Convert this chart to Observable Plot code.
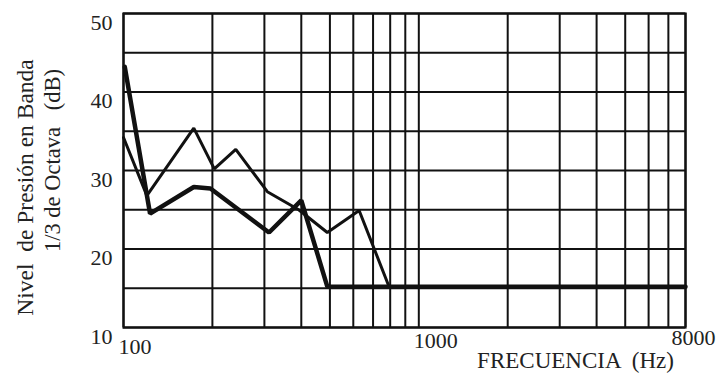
<!DOCTYPE html>
<html>
<head>
<meta charset="utf-8">
<script src="https://cdn.jsdelivr.net/npm/d3@7"></script>
<script src="https://cdn.jsdelivr.net/npm/@observablehq/plot@0.6"></script>
<style>
  html, body { margin: 0; padding: 0; background: #fff; }
  #chart svg { display: block; }
  #chart text { white-space: pre; }
</style>
</head>
<body>
<div id="chart"></div>
<script>
// Curve A (thin line)
const freqA  = [100, 120, 173, 203, 240, 307, 392, 490, 628, 793, 8000];
const levelA = [34.2, 26.8, 35.4, 30.2, 32.7, 27.3, 25.0, 22.1, 24.9, 15.2, 15.2];
// Curve B (thick line)
const freqB  = [101, 123, 173, 197, 311, 400, 490, 8000];
const levelB = [43.2, 24.5, 27.9, 27.7, 22.1, 26.2, 15.2, 15.2];

const xGrid = [100, 200, 300, 400, 500, 600, 700, 800, 900, 1000, 2000, 3000, 4000, 5000, 6000, 7000, 8000];
const yGrid = [10, 15, 20, 25, 30, 35, 40, 45, 50];
const yTickLabels = [10, 20, 30, 40, 50];
const xTickLabels = [100, 1000, 8000];
const xTitle = "FRECUENCIA  (Hz)";
const yTitle1 = "Nivel  de Presión en Banda";
const yTitle2 = "1/3 de Octava   (dB)";

const seriesA = freqA.map((f, i) => ({f, v: levelA[i]}));
const seriesB = freqB.map((f, i) => ({f, v: levelB[i]}));

const tickFont = 22;
const chart = Plot.plot({
  width: 719,
  height: 383,
  marginLeft: 123,
  marginRight: 34,
  marginTop: 13,
  marginBottom: 56,
  style: {fontFamily: "'Liberation Serif', 'DejaVu Serif', serif", background: "#fff", color: "#111"},
  x: {type: "log", domain: [100, 8000], axis: null},
  y: {domain: [10, 50], axis: null},
  marks: [
    Plot.ruleX(xGrid, {stroke: "#111", strokeWidth: 2}),
    Plot.ruleY(yGrid, {stroke: "#111", strokeWidth: 2}),
    Plot.frame({stroke: "#111", strokeWidth: 2.2}),
    Plot.line(seriesA, {x: "f", y: "v", stroke: "#111", strokeWidth: 3, strokeLinejoin: "miter"}),
    Plot.line(seriesB, {x: "f", y: "v", stroke: "#111", strokeWidth: 4.5, strokeLinejoin: "miter"}),
    Plot.text(yTickLabels, {y: d => d, text: d => String(d), frameAnchor: "left", textAnchor: "end", dx: -11, dy: 9, fontSize: tickFont, fill: "#222"}),
    Plot.text(xTickLabels, {filter: d => d === 100, x: d => d, text: d => String(d), frameAnchor: "bottom", textAnchor: "start", dx: -5, dy: 26, fontSize: tickFont, fill: "#222"}),
    Plot.text(xTickLabels, {filter: d => d === 1000, x: d => d, text: d => String(d), frameAnchor: "bottom", textAnchor: "start", dx: -5, dy: 20, fontSize: tickFont, fill: "#222"}),
    Plot.text(xTickLabels, {filter: d => d === 8000, x: d => d, text: d => String(d), frameAnchor: "bottom", textAnchor: "middle", dx: 8, dy: 17, fontSize: tickFont, fill: "#222"}),
    Plot.text([xTitle], {text: d => d, frameAnchor: "bottom", textAnchor: "middle", dx: 171, dy: 40, fontSize: 23, fill: "#222"}),
    Plot.text([yTitle1], {text: d => d, frameAnchor: "left", textAnchor: "middle", rotate: -90, dx: -98, dy: 17, fontSize: 23.5, fill: "#222"}),
    Plot.text([yTitle2], {text: d => d, frameAnchor: "left", textAnchor: "middle", rotate: -90, dx: -71, dy: -10, fontSize: 22.5, fill: "#222"})
  ]
});
document.getElementById("chart").appendChild(chart);
</script>
</body>
</html>
